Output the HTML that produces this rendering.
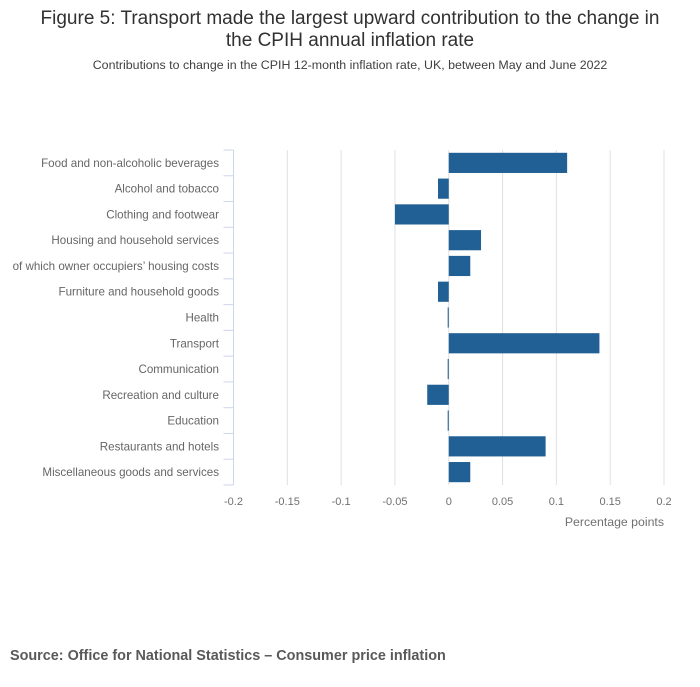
<!DOCTYPE html>
<html><head><meta charset="utf-8"><style>
body{margin:0;background:#fff;width:700px;height:682px;overflow:hidden;font-family:"Liberation Sans",sans-serif}
</style></head><body>
<svg width="700" height="682">
<text x="350" y="24" text-anchor="middle" font-size="19" fill="#323132">Figure 5: Transport made the largest upward contribution to the change in</text>
<text x="350" y="46" text-anchor="middle" font-size="19" fill="#323132">the CPIH annual inflation rate</text>
<text x="350" y="69" text-anchor="middle" font-size="12.4" fill="#414042">Contributions to change in the CPIH 12-month inflation rate, UK, between May and June 2022</text>
<g id="grid"></g><g id="bars"></g><g id="axes"></g>
<text x="664" y="526" text-anchor="end" font-size="12.3" fill="#707070">Percentage points</text>
<text x="10" y="660" font-size="14.4" font-weight="bold" fill="#595959">Source: Office for National Statistics – Consumer price inflation</text>
</svg>
<script>
const categories=["Food and non-alcoholic beverages","Alcohol and tobacco","Clothing and footwear","Housing and household services","of which owner occupiers’ housing costs","Furniture and household goods","Health","Transport","Communication","Recreation and culture","Education","Restaurants and hotels","Miscellaneous goods and services"];
const values=[0.11,-0.01,-0.05,0.03,0.02,-0.01,-0.001,0.14,-0.001,-0.02,-0.001,0.09,0.02];
const ticks=[-0.2,-0.15,-0.1,-0.05,0,0.05,0.1,0.15,0.2];
const NS="http://www.w3.org/2000/svg";
const x0=233.5,x1=664,yTop=150,yBot=485;
const xs=v=>x0+(v+0.2)/0.4*(x1-x0);
const band=(yBot-yTop)/categories.length;
const ys=i=>yTop+i*band;
function mk(p,t,a){const e=document.createElementNS(NS,t);for(const k in a)e.setAttribute(k,a[k]);document.getElementById(p).appendChild(e);return e;}
ticks.forEach((t,i)=>{
 if(i>0){const g=mk('grid','line',{x1:xs(t),x2:xs(t),y1:yTop,y2:yBot,stroke:'#e0e0e0','stroke-width':1});
 
 }
 const l=mk('axes','text',{x:xs(t),y:505,'text-anchor':'middle','font-size':11,fill:'#707070'});
 l.textContent=String(t);
 
 
});
const ax=mk('axes','line',{x1:x0,x2:x0,y1:yTop,y2:yBot,stroke:'#ccd6eb','stroke-width':1});


for(let i=0;i<=categories.length;i++){
 const tk=mk('axes','line',{x1:x0-10,x2:x0,y1:ys(i),y2:ys(i),stroke:'#ccd6eb','stroke-width':1});
 
 
}
categories.forEach((c,i)=>{
 const v=values[i];
 const a=xs(Math.min(0,v)),b=xs(Math.max(0,v));
 const r=mk('bars','rect',{x:a,y:ys(i)+2.8,width:Math.max(1,b-a),height:band-5.6,fill:'#206095'});
 
 
 const t=mk('axes','text',{x:219,y:ys(i)+band/2+4,'text-anchor':'end','font-size':11.6,fill:'#666'});
 t.textContent=c;
 
 
});
</script>
</body></html>
